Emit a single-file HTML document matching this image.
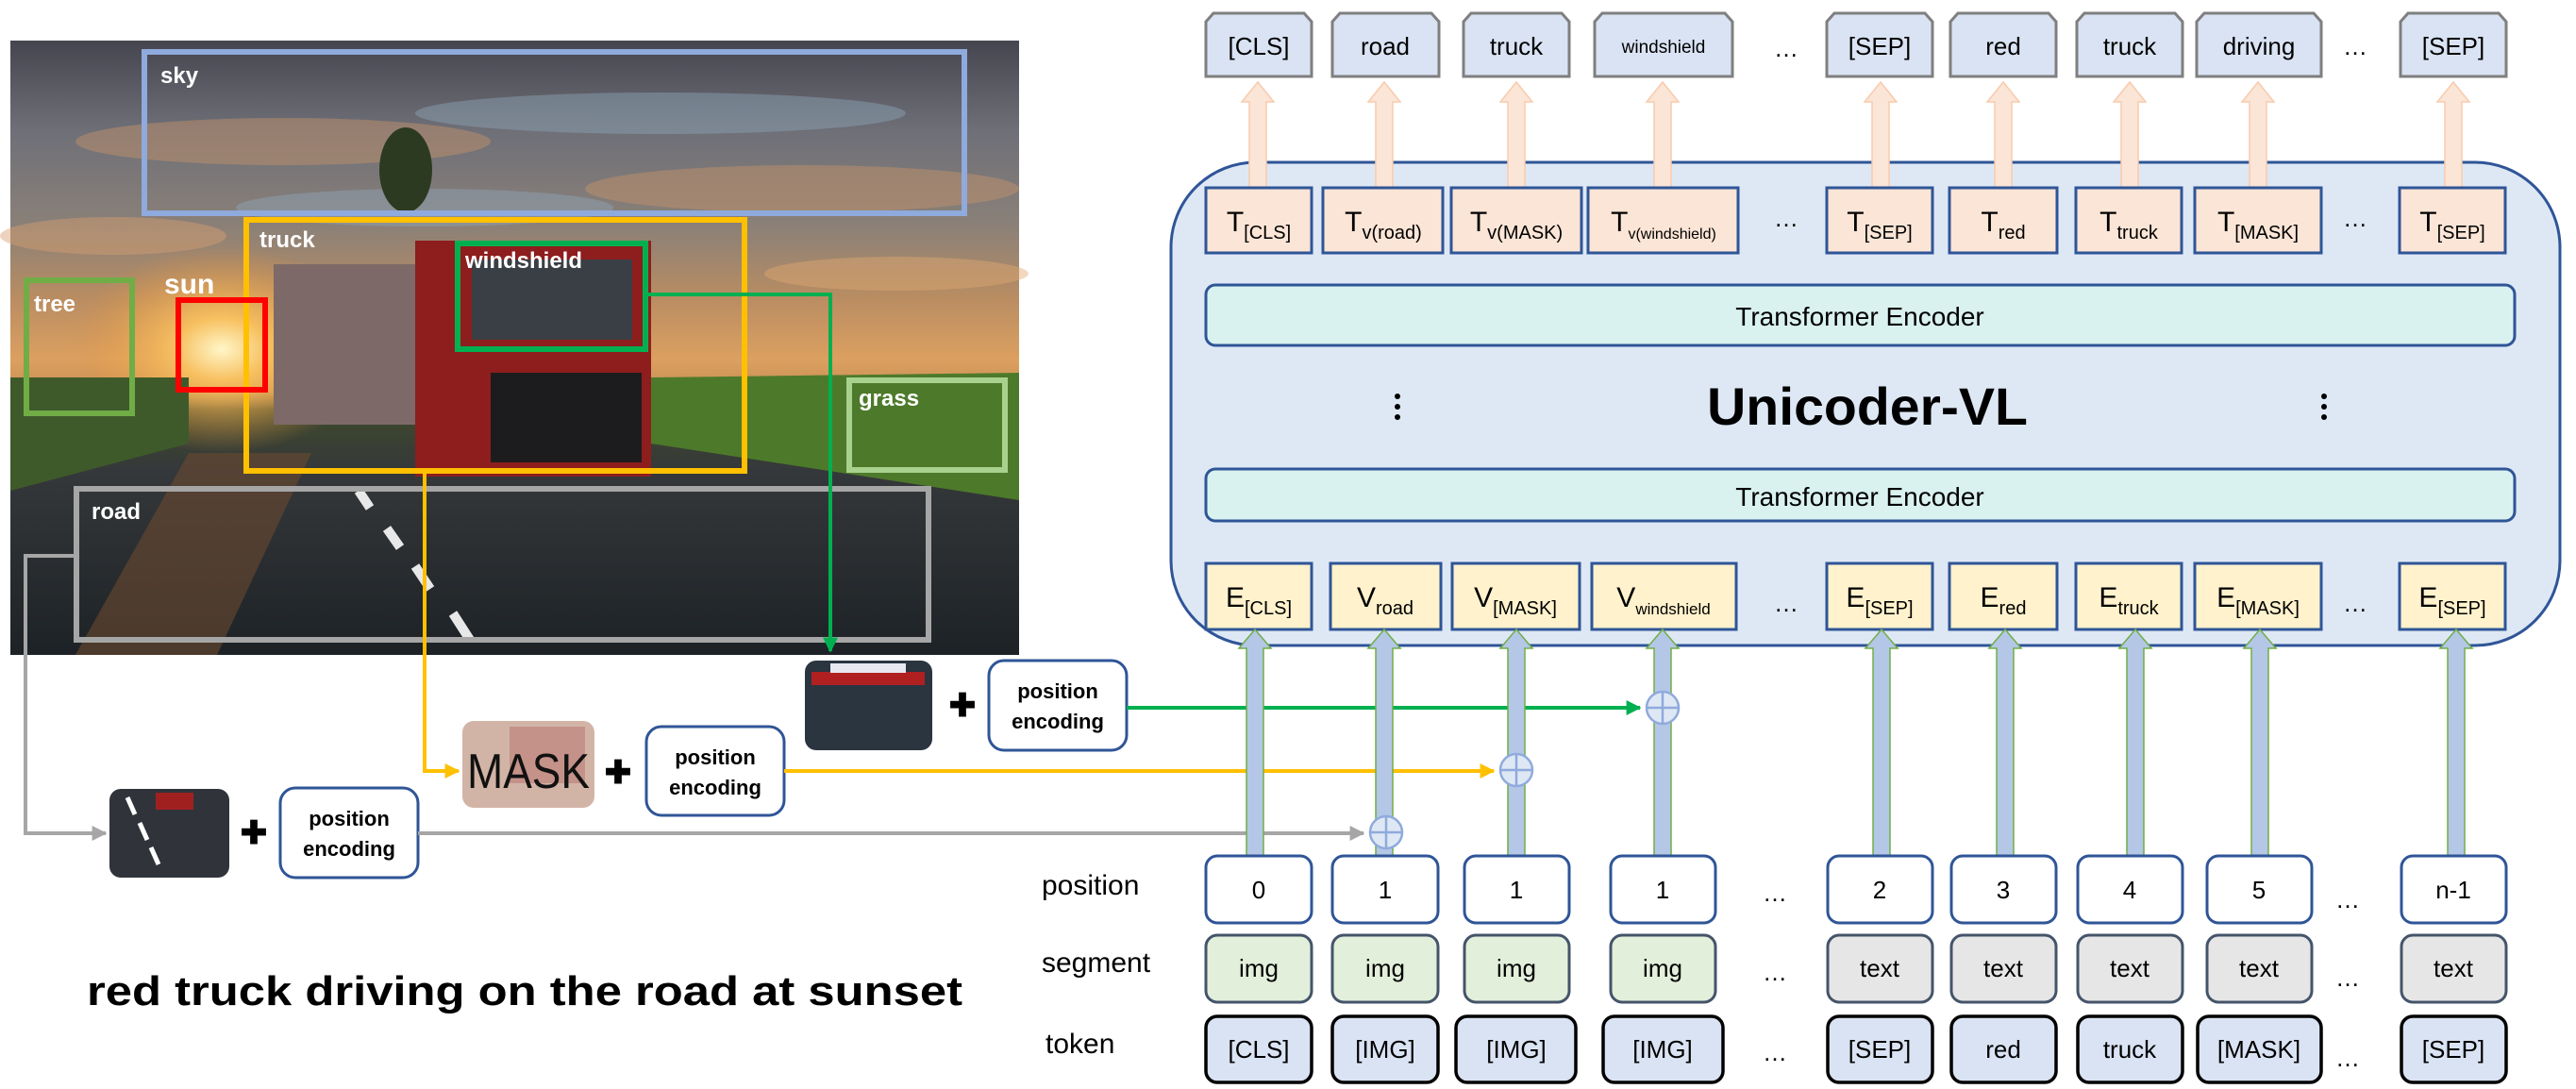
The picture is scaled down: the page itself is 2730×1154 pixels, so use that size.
<!DOCTYPE html>
<html><head><meta charset="utf-8"><style>
html,body{margin:0;padding:0;background:#fff;}
svg{display:block;}
text{font-family:"Liberation Sans",sans-serif;}
</style></head><body>
<svg width="2730" height="1154" viewBox="0 0 2730 1154" xmlns="http://www.w3.org/2000/svg">
<defs>
<linearGradient id="sky" x1="0" y1="0" x2="0" y2="1">
<stop offset="0" stop-color="#45454f"/>
<stop offset="0.15" stop-color="#6f7078"/>
<stop offset="0.3" stop-color="#8a8078"/>
<stop offset="0.42" stop-color="#b98d62"/>
<stop offset="0.52" stop-color="#dca060"/>
<stop offset="0.57" stop-color="#c59055"/>
<stop offset="0.6" stop-color="#3f4a2c"/>
<stop offset="0.7" stop-color="#35383a"/>
<stop offset="1" stop-color="#1d2226"/>
</linearGradient>
<radialGradient id="sun" cx="0.5" cy="0.5" r="0.5">
<stop offset="0" stop-color="#fff6c8"/>
<stop offset="0.3" stop-color="#f7c060"/>
<stop offset="1" stop-color="#e09040" stop-opacity="0"/>
</radialGradient>
<marker id="ag" viewBox="0 0 10 10" refX="9" refY="5" markerWidth="4" markerHeight="4" orient="auto"><path d="M0,0L10,5L0,10z" fill="#00b050"/></marker>
<marker id="ay" viewBox="0 0 10 10" refX="9" refY="5" markerWidth="4" markerHeight="4" orient="auto"><path d="M0,0L10,5L0,10z" fill="#ffc000"/></marker>
<marker id="agr" viewBox="0 0 10 10" refX="9" refY="5" markerWidth="4" markerHeight="4" orient="auto"><path d="M0,0L10,5L0,10z" fill="#a6a6a6"/></marker>
</defs>

<!-- photo -->
<rect x="11" y="43" width="1069" height="651" fill="url(#sky)"/>
<g opacity="0.45">
<ellipse cx="300" cy="150" rx="220" ry="25" fill="#c8946a"/>
<ellipse cx="700" cy="120" rx="260" ry="22" fill="#8fa6b8"/>
<ellipse cx="850" cy="200" rx="230" ry="25" fill="#c8946a"/>
<ellipse cx="450" cy="220" rx="200" ry="20" fill="#8fa6b8"/>
<ellipse cx="120" cy="250" rx="120" ry="20" fill="#d8a070"/>
<ellipse cx="950" cy="290" rx="140" ry="18" fill="#e0a870"/>
</g>
<ellipse cx="430" cy="180" rx="28" ry="45" fill="#2c3a22"/>
<ellipse cx="235" cy="370" rx="160" ry="110" fill="url(#sun)"/>
<path d="M690,400 L1080,395 L1080,530 L690,470z" fill="#4d7a2a"/>
<path d="M11,400 L200,400 L200,470 L11,520z" fill="#3f5a2a"/>
<rect x="290" y="280" width="170" height="170" fill="#7d6a68"/>
<rect x="440" y="255" width="250" height="250" fill="#8e1d1d"/>
<rect x="500" y="275" width="170" height="85" fill="#3a3f45"/>
<rect x="520" y="395" width="160" height="95" fill="#1c1c1e"/>
<path d="M200,480 L80,694 L230,694 L330,480z" fill="#6a4a30" opacity="0.6"/>
<path d="M380,520 l12,18 M410,560 l14,20 M440,600 l16,24 M480,650 l18,28" stroke="#e8e8e8" stroke-width="10"/>

<g fill="none" stroke-width="6">
<rect x="153" y="55" width="869" height="171" stroke="#8faadc"/>
<rect x="261" y="233" width="528" height="266" stroke="#ffc000"/>
<rect x="485" y="258" width="199" height="112" stroke="#00b050"/>
<rect x="28" y="297" width="112" height="141" stroke="#70ad47"/>
<rect x="189" y="318" width="92" height="95" stroke="#ff0000"/>
<rect x="900" y="403" width="165" height="95" stroke="#a9d18e"/>
<rect x="81" y="518" width="903" height="160" stroke="#a6a6a6"/>
</g>
<g fill="#fff" font-size="24" font-weight="bold">
<text x="170" y="88">sky</text>
<text x="275" y="262">truck</text>
<text x="493" y="284">windshield</text>
<text x="36" y="330">tree</text>
<text x="174" y="311" font-size="30">sun</text>
<text x="910" y="430">grass</text>
<text x="97" y="550">road</text>
</g>

<!-- connectors left -->
<polyline points="684,312 880,312 880,690" fill="none" stroke="#00b050" stroke-width="4" marker-end="url(#ag)"/>
<polyline points="450,499 450,817 486,817" fill="none" stroke="#ffc000" stroke-width="4" marker-end="url(#ay)"/>
<polyline points="81,589 27,589 27,883 112,883" fill="none" stroke="#a6a6a6" stroke-width="4" marker-end="url(#agr)"/>

<!-- crops -->
<rect x="853" y="700" width="135" height="95" rx="12" fill="#2a3540"/>
<rect x="860" y="712" width="120" height="14" fill="#b02020"/>
<rect x="880" y="703" width="80" height="10" fill="#e8e8f0"/>
<rect x="490" y="764" width="140" height="92" rx="12" fill="#d2b4a6"/>
<rect x="540" y="770" width="80" height="60" fill="#b06060" opacity="0.4"/>
<text x="560" y="835" font-size="52" text-anchor="middle" fill="#111" textLength="130" lengthAdjust="spacingAndGlyphs">MASK</text>
<rect x="116" y="836" width="127" height="94" rx="12" fill="#30343a"/>
<path d="M135,845 l8,18 M148,872 l8,18 M160,898 l8,18" stroke="#fff" stroke-width="5"/>
<rect x="165" y="840" width="40" height="18" fill="#a02020"/>

<g font-size="34" font-weight="bold" text-anchor="middle" fill="#000">
<text x="1020" y="759">✚</text>
<text x="655" y="830">✚</text>
<text x="269" y="894">✚</text>
</g>
<g fill="#fff" stroke="#2f5597" stroke-width="3">
<rect x="1048" y="700" width="146" height="95" rx="16"/>
<rect x="685" y="770" width="146" height="94" rx="16"/>
<rect x="297" y="835" width="146" height="95" rx="16"/>
</g>
<g font-size="22" font-weight="bold" text-anchor="middle" fill="#000">
<text x="1121" y="740">position</text><text x="1121" y="772">encoding</text>
<text x="758" y="810">position</text><text x="758" y="842">encoding</text>
<text x="370" y="875">position</text><text x="370" y="907">encoding</text>
</g>

<text x="92" y="1065" font-size="44" font-weight="bold" textLength="928" lengthAdjust="spacingAndGlyphs">red truck driving on the road at sunset</text>
<g font-size="30" fill="#000">
<text x="1104" y="948">position</text>
<text x="1104" y="1030">segment</text>
<text x="1108" y="1116">token</text>
</g>

<!-- big box -->
<rect x="1241" y="172" width="1472" height="512" rx="90" fill="#dee8f5" stroke="#2f5597" stroke-width="3"/>
<rect x="1278" y="302" width="1387" height="64" rx="10" fill="#daf2ef" stroke="#2f5597" stroke-width="3"/>
<rect x="1278" y="497" width="1387" height="55" rx="10" fill="#daf2ef" stroke="#2f5597" stroke-width="3"/>
<text x="1971" y="345" font-size="28" text-anchor="middle">Transformer Encoder</text>
<text x="1971" y="536" font-size="28" text-anchor="middle">Transformer Encoder</text>
<text x="1979" y="450" font-size="56" font-weight="bold" text-anchor="middle" textLength="340" lengthAdjust="spacingAndGlyphs">Unicoder-VL</text>
<g fill="#000"><circle cx="1481" cy="420" r="3"/><circle cx="1481" cy="431" r="3"/><circle cx="1481" cy="442" r="3"/>
<circle cx="2463" cy="420" r="3"/><circle cx="2463" cy="431" r="3"/><circle cx="2463" cy="442" r="3"/></g>

<!-- peach arrows -->
<g fill="#fbe5d6" stroke="#f8cbad" stroke-width="1.5">
<path d="M1324,200 V108 H1316 L1333,87 L1350,108 H1342 V200z"/>
<path d="M1458,200 V108 H1450 L1467,87 L1484,108 H1476 V200z"/>
<path d="M1598,200 V108 H1590 L1607,87 L1624,108 H1616 V200z"/>
<path d="M1753,200 V108 H1745 L1762,87 L1779,108 H1771 V200z"/>
<path d="M1984,200 V108 H1976 L1993,87 L2010,108 H2002 V200z"/>
<path d="M2114,200 V108 H2106 L2123,87 L2140,108 H2132 V200z"/>
<path d="M2248,200 V108 H2240 L2257,87 L2274,108 H2266 V200z"/>
<path d="M2384,200 V108 H2376 L2393,87 L2410,108 H2402 V200z"/>
<path d="M2591,200 V108 H2583 L2600,87 L2617,108 H2609 V200z"/>
</g>

<!-- top boxes -->
<g fill="#dae3f3" stroke="#7f7f7f" stroke-width="3">
<path d="M1278,81 V23 L1286,14 H1382 L1390,23 V81z"/>
<path d="M1412,81 V23 L1420,14 H1517 L1525,23 V81z"/>
<path d="M1551,81 V23 L1559,14 H1655 L1663,23 V81z"/>
<path d="M1690,81 V23 L1698,14 H1828 L1836,23 V81z"/>
<path d="M1936,81 V23 L1944,14 H2040 L2048,23 V81z"/>
<path d="M2067,81 V23 L2075,14 H2171 L2179,23 V81z"/>
<path d="M2201,81 V23 L2209,14 H2305 L2313,23 V81z"/>
<path d="M2328,81 V23 L2336,14 H2452 L2460,23 V81z"/>
<path d="M2544,81 V23 L2552,14 H2648 L2656,23 V81z"/>
</g>
<g font-size="26" text-anchor="middle">
<text x="1334" y="58">[CLS]</text><text x="1468" y="58">road</text><text x="1607" y="58">truck</text>
<text x="1763" y="56" font-size="19">windshield</text>
<text x="1893" y="60">…</text>
<text x="1992" y="58">[SEP]</text><text x="2123" y="58">red</text><text x="2257" y="58">truck</text>
<text x="2394" y="58">driving</text><text x="2496" y="58">…</text><text x="2600" y="58">[SEP]</text>
</g>

<!-- T row -->
<g fill="#fbe5d6" stroke="#2f5597" stroke-width="3">
<rect x="1278" y="199" width="112" height="69"/><rect x="1402" y="199" width="127" height="69"/>
<rect x="1538" y="199" width="138" height="69"/><rect x="1683" y="199" width="159" height="69"/>
<rect x="1936" y="199" width="112" height="69"/><rect x="2066" y="199" width="114" height="69"/>
<rect x="2200" y="199" width="112" height="69"/><rect x="2326" y="199" width="134" height="69"/>
<rect x="2543" y="199" width="112" height="69"/>
</g>
<g font-size="30" text-anchor="middle">
<text x="1334" y="245">T<tspan font-size="20" dy="8">[CLS]</tspan></text>
<text x="1466" y="245">T<tspan font-size="20" dy="8">v(road)</tspan></text>
<text x="1607" y="245">T<tspan font-size="20" dy="8">v(MASK)</tspan></text>
<text x="1763" y="245">T<tspan font-size="16" dy="8">v(windshield)</tspan></text>
<text x="1893" y="240" font-size="26">…</text>
<text x="1992" y="245">T<tspan font-size="20" dy="8">[SEP]</tspan></text>
<text x="2123" y="245">T<tspan font-size="20" dy="8">red</tspan></text>
<text x="2256" y="245">T<tspan font-size="20" dy="8">truck</tspan></text>
<text x="2393" y="245">T<tspan font-size="20" dy="8">[MASK]</tspan></text>
<text x="2496" y="240" font-size="26">…</text>
<text x="2599" y="245">T<tspan font-size="20" dy="8">[SEP]</tspan></text>
</g>

<!-- E row -->
<g fill="#fff2cc" stroke="#2f5597" stroke-width="3">
<rect x="1278" y="597" width="112" height="70"/><rect x="1410" y="597" width="117" height="70"/>
<rect x="1539" y="597" width="135" height="70"/><rect x="1687" y="597" width="153" height="70"/>
<rect x="1936" y="597" width="112" height="70"/><rect x="2066" y="597" width="114" height="70"/>
<rect x="2200" y="597" width="112" height="70"/><rect x="2326" y="597" width="134" height="70"/>
<rect x="2543" y="597" width="112" height="70"/>
</g>
<g font-size="30" text-anchor="middle">
<text x="1334" y="643">E<tspan font-size="20" dy="8">[CLS]</tspan></text>
<text x="1468" y="643">V<tspan font-size="20" dy="8">road</tspan></text>
<text x="1606" y="643">V<tspan font-size="20" dy="8">[MASK]</tspan></text>
<text x="1763" y="643">V<tspan font-size="17" dy="8">windshield</tspan></text>
<text x="1893" y="648" font-size="26">…</text>
<text x="1992" y="643">E<tspan font-size="20" dy="8">[SEP]</tspan></text>
<text x="2123" y="643">E<tspan font-size="20" dy="8">red</tspan></text>
<text x="2256" y="643">E<tspan font-size="20" dy="8">truck</tspan></text>
<text x="2393" y="643">E<tspan font-size="20" dy="8">[MASK]</tspan></text>
<text x="2496" y="648" font-size="26">…</text>
<text x="2599" y="643">E<tspan font-size="20" dy="8">[SEP]</tspan></text>
</g>

<!-- horizontal colored lines to circles -->
<line x1="1194" y1="750" x2="1738" y2="750" stroke="#00b050" stroke-width="4" marker-end="url(#ag)"/>
<line x1="831" y1="817" x2="1583" y2="817" stroke="#ffc000" stroke-width="4" marker-end="url(#ay)"/>
<line x1="443" y1="883" x2="1445" y2="883" stroke="#a6a6a6" stroke-width="4" marker-end="url(#agr)"/>

<!-- blue up arrows -->
<g fill="#b4c7e7" stroke="#70ad47" stroke-width="1.5">
<path d="M1321,907 V687 H1313 L1330,667 L1347,687 H1339 V907z"/>
<path d="M1458,907 V687 H1450 L1467,667 L1484,687 H1476 V907z"/>
<path d="M1598,907 V687 H1590 L1607,667 L1624,687 H1616 V907z"/>
<path d="M1753,907 V687 H1745 L1762,667 L1779,687 H1771 V907z"/>
<path d="M1985,907 V687 H1977 L1994,667 L2011,687 H2003 V907z"/>
<path d="M2116,907 V687 H2108 L2125,667 L2142,687 H2134 V907z"/>
<path d="M2254,907 V687 H2246 L2263,667 L2280,687 H2272 V907z"/>
<path d="M2386,907 V687 H2378 L2395,667 L2412,687 H2404 V907z"/>
<path d="M2594,907 V687 H2586 L2603,667 L2620,687 H2612 V907z"/>
</g>
<g fill="#dee8f5" stroke="#8faadc" stroke-width="2.5">
<circle cx="1762" cy="750" r="17"/><path d="M1762,733 V767 M1745,750 H1779"/>
<circle cx="1607" cy="816" r="17"/><path d="M1607,799 V833 M1590,816 H1624"/>
<circle cx="1469" cy="882" r="17"/><path d="M1469,865 V899 M1452,882 H1486"/>
</g>

<!-- position row -->
<g fill="#fff" stroke="#2f5597" stroke-width="3">
<rect x="1278" y="907" width="112" height="71" rx="12"/><rect x="1412" y="907" width="112" height="71" rx="12"/>
<rect x="1552" y="907" width="111" height="71" rx="12"/><rect x="1707" y="907" width="111" height="71" rx="12"/>
<rect x="1937" y="907" width="111" height="71" rx="12"/><rect x="2068" y="907" width="111" height="71" rx="12"/>
<rect x="2202" y="907" width="111" height="71" rx="12"/><rect x="2339" y="907" width="111" height="71" rx="12"/>
<rect x="2545" y="907" width="111" height="71" rx="12"/>
</g>
<!-- segment row -->
<g stroke="#44546a" stroke-width="3">
<rect x="1278" y="991" width="112" height="71" rx="12" fill="#e2efda"/><rect x="1412" y="991" width="112" height="71" rx="12" fill="#e2efda"/>
<rect x="1552" y="991" width="111" height="71" rx="12" fill="#e2efda"/><rect x="1707" y="991" width="111" height="71" rx="12" fill="#e2efda"/>
<rect x="1937" y="991" width="111" height="71" rx="12" fill="#e7e6e6"/><rect x="2068" y="991" width="111" height="71" rx="12" fill="#e7e6e6"/>
<rect x="2202" y="991" width="111" height="71" rx="12" fill="#e7e6e6"/><rect x="2339" y="991" width="111" height="71" rx="12" fill="#e7e6e6"/>
<rect x="2545" y="991" width="111" height="71" rx="12" fill="#e7e6e6"/>
</g>
<!-- token row -->
<g fill="#dae3f3" stroke="#000" stroke-width="3.5">
<rect x="1278" y="1077" width="112" height="70" rx="12"/><rect x="1412" y="1077" width="112" height="70" rx="12"/>
<rect x="1543" y="1077" width="127" height="70" rx="12"/><rect x="1699" y="1077" width="127" height="70" rx="12"/>
<rect x="1937" y="1077" width="111" height="70" rx="12"/><rect x="2068" y="1077" width="111" height="70" rx="12"/>
<rect x="2202" y="1077" width="111" height="70" rx="12"/><rect x="2329" y="1077" width="131" height="70" rx="12"/>
<rect x="2545" y="1077" width="111" height="70" rx="12"/>
</g>
<g font-size="26" text-anchor="middle">
<text x="1334" y="952">0</text><text x="1468" y="952">1</text><text x="1607" y="952">1</text><text x="1762" y="952">1</text>
<text x="1881" y="955">…</text>
<text x="1992" y="952">2</text><text x="2123" y="952">3</text><text x="2257" y="952">4</text><text x="2394" y="952">5</text>
<text x="2488" y="962">…</text><text x="2600" y="952">n-1</text>

<text x="1334" y="1035">img</text><text x="1468" y="1035">img</text><text x="1607" y="1035">img</text><text x="1762" y="1035">img</text>
<text x="1881" y="1039">…</text>
<text x="1992" y="1035">text</text><text x="2123" y="1035">text</text><text x="2257" y="1035">text</text><text x="2394" y="1035">text</text>
<text x="2488" y="1045">…</text><text x="2600" y="1035">text</text>

<text x="1334" y="1121">[CLS]</text><text x="1468" y="1121">[IMG]</text><text x="1607" y="1121">[IMG]</text><text x="1762" y="1121">[IMG]</text>
<text x="1881" y="1124">…</text>
<text x="1992" y="1121">[SEP]</text><text x="2123" y="1121">red</text><text x="2257" y="1121">truck</text><text x="2394" y="1121">[MASK]</text>
<text x="2488" y="1130">…</text><text x="2600" y="1121">[SEP]</text>
</g>
</svg>
</body></html>
